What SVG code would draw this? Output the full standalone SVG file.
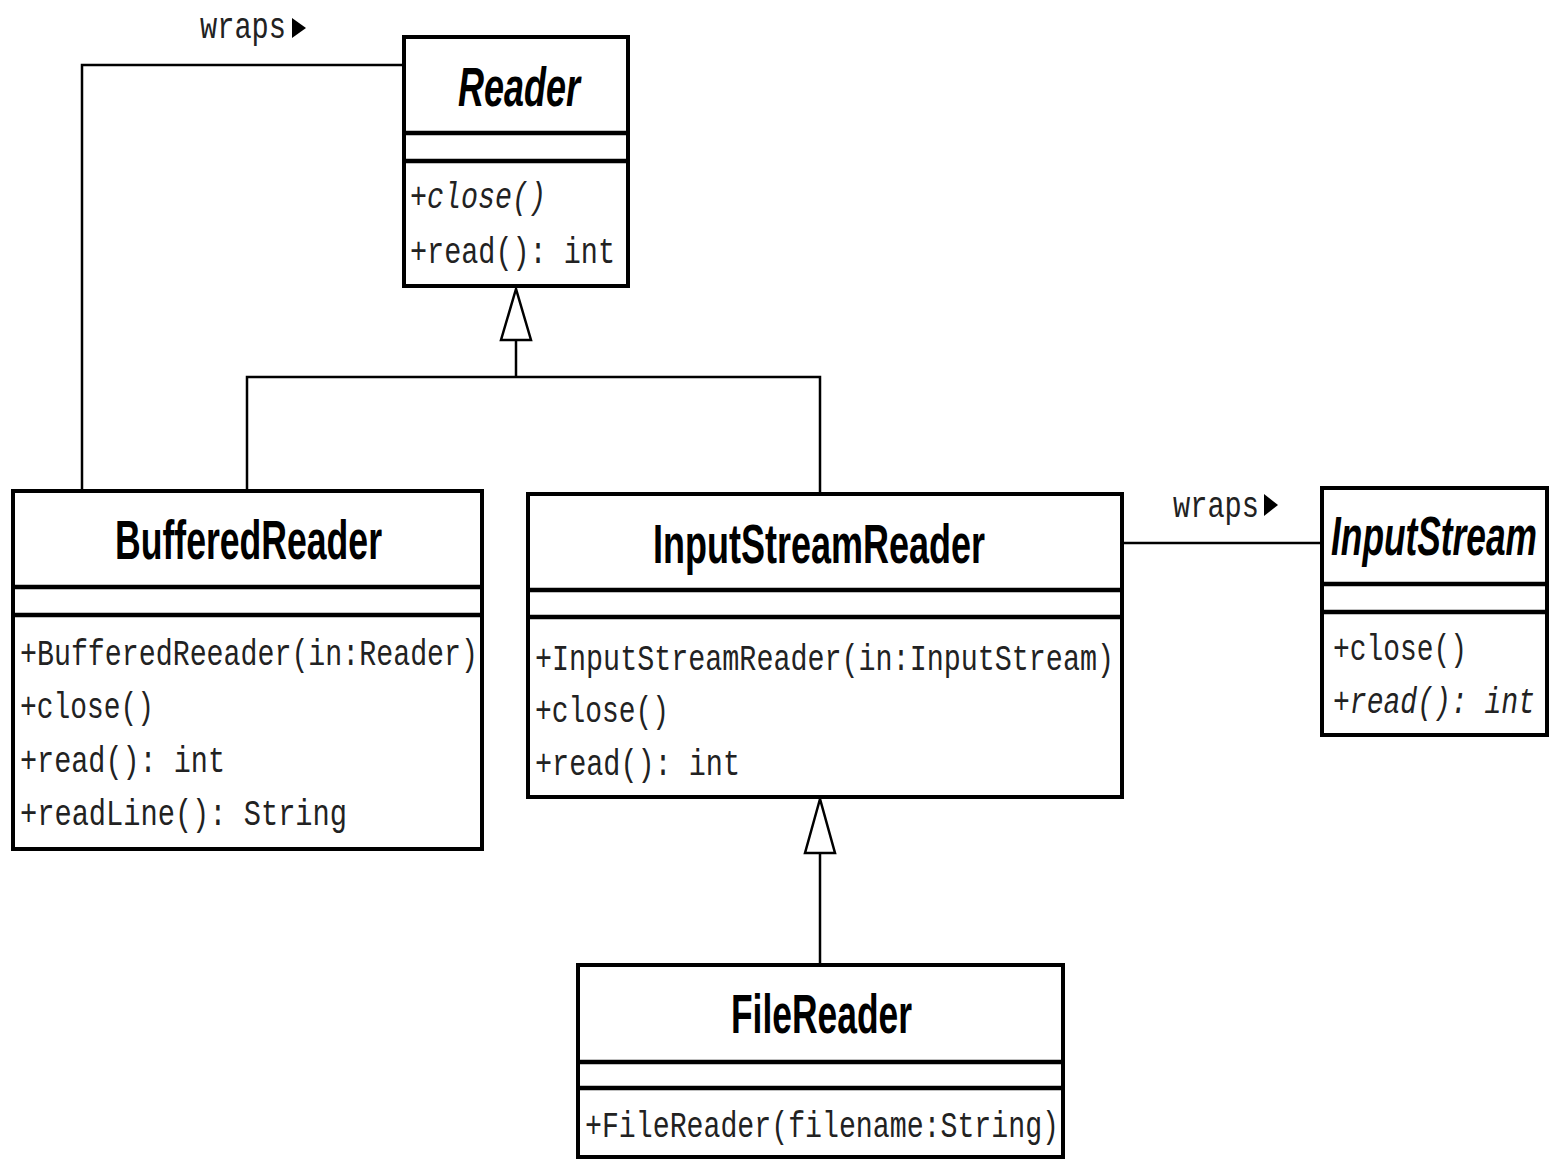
<svg xmlns="http://www.w3.org/2000/svg" width="1552" height="1160" viewBox="0 0 1552 1160">
<style>
.box{fill:#fff;stroke:#000;stroke-width:4}
.div{stroke:#000;stroke-width:4.5}
.conn{fill:none;stroke:#000;stroke-width:2.5}
.tri{fill:#fff;stroke:#000;stroke-width:2.5}
.title{font-family:"Liberation Sans",Arial,sans-serif;font-weight:bold;font-size:56px;fill:#000}
.abs{font-style:italic}
.m{font-family:"Liberation Mono","Courier New",monospace;font-size:37px;fill:#222}
.it{font-style:italic}
.lbl{font-family:"Liberation Mono","Courier New",monospace;font-size:36px;fill:#222}
</style>
<rect width="1552" height="1160" fill="#fff"/>
<g id="connectors">
<polyline class="conn" points="404,65 82,65 82,490"/>
<polyline class="conn" points="516,340 516,377"/>
<polyline class="conn" points="247,490 247,377 820,377 820,494"/>
<polygon class="tri" points="516,289 501,340 531,340"/>
<line class="conn" x1="1123" y1="543" x2="1322" y2="543"/>
<line class="conn" x1="820" y1="853" x2="820" y2="965"/>
<polygon class="tri" points="820,799 805,853 835,853"/>
<text class="lbl" x="200" y="38" textLength="86" lengthAdjust="spacingAndGlyphs">wraps</text>
<polygon points="292,18 306,28 292,38" fill="#000"/>
<text class="lbl" x="1173" y="517" textLength="86" lengthAdjust="spacingAndGlyphs">wraps</text>
<polygon points="1264,494 1278,505 1264,516" fill="#000"/>
</g>
<g id="Reader">
<rect class="box" x="404" y="37" width="224" height="249"/>
<line class="div" x1="404" y1="133" x2="628" y2="133"/>
<line class="div" x1="404" y1="161" x2="628" y2="161"/>
<text class="title abs" x="458" y="106" textLength="122" lengthAdjust="spacingAndGlyphs">Reader</text>
<text class="m it" x="410" y="208" textLength="136" lengthAdjust="spacingAndGlyphs">+close()</text>
<text class="m" x="410" y="263" textLength="205" lengthAdjust="spacingAndGlyphs">+read(): int</text>
</g>
<g id="BufferedReader">
<rect class="box" x="13" y="491" width="469" height="358"/>
<line class="div" x1="13" y1="587" x2="482" y2="587"/>
<line class="div" x1="13" y1="615" x2="482" y2="615"/>
<text class="title" x="115" y="559" textLength="267" lengthAdjust="spacingAndGlyphs">BufferedReader</text>
<text class="m" x="20" y="665" textLength="458" lengthAdjust="spacingAndGlyphs">+BufferedReeader(in:Reader)</text>
<text class="m" x="20" y="718" textLength="134" lengthAdjust="spacingAndGlyphs">+close()</text>
<text class="m" x="20" y="772" textLength="205" lengthAdjust="spacingAndGlyphs">+read(): int</text>
<text class="m" x="20" y="825" textLength="327" lengthAdjust="spacingAndGlyphs">+readLine(): String</text>
</g>
<g id="InputStreamReader">
<rect class="box" x="528" y="494" width="594" height="303"/>
<line class="div" x1="528" y1="590" x2="1122" y2="590"/>
<line class="div" x1="528" y1="617" x2="1122" y2="617"/>
<text class="title" x="653" y="563" textLength="332" lengthAdjust="spacingAndGlyphs">InputStreamReader</text>
<text class="m" x="535" y="670" textLength="579" lengthAdjust="spacingAndGlyphs">+InputStreamReader(in:InputStream)</text>
<text class="m" x="535" y="722" textLength="134" lengthAdjust="spacingAndGlyphs">+close()</text>
<text class="m" x="535" y="775" textLength="205" lengthAdjust="spacingAndGlyphs">+read(): int</text>
</g>
<g id="InputStream">
<rect class="box" x="1322" y="488" width="225" height="247"/>
<line class="div" x1="1322" y1="584" x2="1547" y2="584"/>
<line class="div" x1="1322" y1="612" x2="1547" y2="612"/>
<text class="title abs" x="1331" y="555" textLength="206" lengthAdjust="spacingAndGlyphs">InputStream</text>
<text class="m" x="1333" y="660" textLength="134" lengthAdjust="spacingAndGlyphs">+close()</text>
<text class="m it" x="1333" y="713" textLength="202" lengthAdjust="spacingAndGlyphs">+read(): int</text>
</g>
<g id="FileReader">
<rect class="box" x="578" y="965" width="485" height="192"/>
<line class="div" x1="578" y1="1062" x2="1063" y2="1062"/>
<line class="div" x1="578" y1="1088" x2="1063" y2="1088"/>
<text class="title" x="731" y="1033" textLength="181" lengthAdjust="spacingAndGlyphs">FileReader</text>
<text class="m" x="585" y="1137" textLength="474" lengthAdjust="spacingAndGlyphs">+FileReader(filename:String)</text>
</g>
</svg>
